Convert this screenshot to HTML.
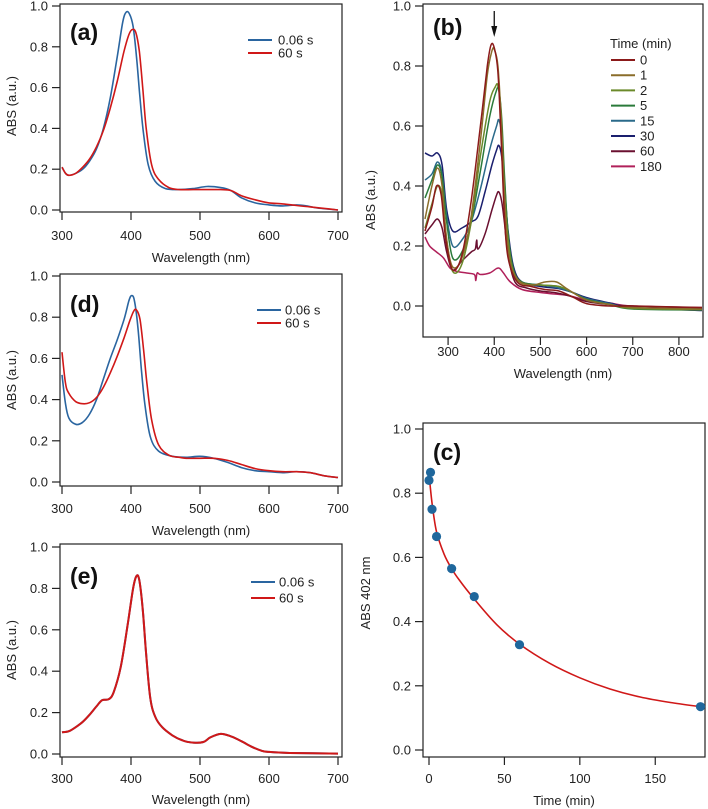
<!DOCTYPE html>
<html><head><meta charset="utf-8"><style>
body{margin:0;background:#fff}
svg{display:block;font-family:"Liberation Sans",sans-serif}
</style></head><body>
<svg id="fig" width="708" height="809" viewBox="0 0 708 809"></svg>
<script>
// ---- data ----
const aWl=[300,305,310,320,330,340,350,360,370,380,388,393,398,403,408,413,418,425,435,450,470,490,510,530,545,560,580,600,620,640,655,670,700];
const aBlue=[0.21,0.18,0.17,0.18,0.2,0.24,0.3,0.4,0.55,0.75,0.92,0.97,0.96,0.9,0.75,0.55,0.38,0.22,0.14,0.105,0.1,0.105,0.115,0.11,0.095,0.06,0.035,0.025,0.02,0.025,0.02,0.01,0.0];
const aRedWl=[300,305,310,320,330,340,350,360,370,380,390,397,402,407,412,417,422,430,440,455,470,490,510,530,545,560,580,600,620,640,660,680,700];
const aRed=[0.21,0.18,0.17,0.18,0.21,0.25,0.31,0.39,0.5,0.63,0.78,0.86,0.885,0.87,0.78,0.6,0.4,0.22,0.15,0.11,0.1,0.1,0.1,0.1,0.095,0.07,0.05,0.035,0.03,0.022,0.015,0.008,0.0];
const dBlueWl=[300,305,310,320,330,340,350,360,370,380,390,397,401,405,410,415,420,428,440,460,480,500,520,540,560,580,600,620,640,660,680,700];
const dBlue=[0.52,0.38,0.31,0.28,0.29,0.33,0.4,0.5,0.6,0.69,0.79,0.88,0.905,0.88,0.75,0.55,0.38,0.22,0.15,0.125,0.12,0.125,0.115,0.095,0.07,0.055,0.05,0.045,0.05,0.045,0.03,0.022];
const dRedWl=[300,305,310,320,330,340,350,360,370,380,390,398,404,408,413,418,423,430,440,455,470,480,500,520,540,560,580,600,620,640,660,680,700];
const dRed=[0.63,0.48,0.43,0.39,0.38,0.385,0.41,0.46,0.53,0.61,0.7,0.78,0.83,0.835,0.79,0.65,0.48,0.3,0.18,0.13,0.12,0.115,0.115,0.115,0.105,0.085,0.065,0.055,0.05,0.05,0.045,0.03,0.022];
const eWl=[300,310,320,330,340,350,358,368,375,385,395,403,408,412,417,422,428,435,445,460,475,490,505,515,530,545,560,575,590,600,630,700];
const eVals=[0.105,0.11,0.13,0.155,0.19,0.23,0.26,0.265,0.3,0.42,0.62,0.8,0.86,0.84,0.7,0.48,0.27,0.18,0.13,0.09,0.065,0.055,0.058,0.08,0.097,0.085,0.062,0.035,0.015,0.01,0.005,0.002];
const bNames=["0","1","2","5","15","30","60","180"];
const bColors=["#8b1a1a","#8a6d2a","#6b8a2a","#2a7a3a","#2a6a8a","#1a1f6e","#6a1030","#b0205a"];
const b0W=[250,265,275,285,295,310,330,350,370,385,393,400,408,415,422,430,450,480,510,540,570,600,650,700,850];
const b0V=[0.25,0.33,0.40,0.37,0.22,0.12,0.17,0.35,0.6,0.8,0.87,0.86,0.78,0.55,0.3,0.16,0.08,0.065,0.055,0.05,0.03,0.008,0.0,0.0,-0.005];
const b1W=[250,265,277,287,297,310,330,350,370,385,395,400,408,415,423,432,450,480,510,535,560,600,650,700,850];
const b1V=[0.29,0.4,0.46,0.4,0.22,0.13,0.16,0.3,0.55,0.77,0.85,0.855,0.8,0.62,0.35,0.17,0.09,0.07,0.08,0.08,0.055,0.02,0.005,-0.005,-0.01];
const b2W=[250,265,277,287,297,310,330,350,370,390,402,408,414,420,428,440,460,500,540,570,600,650,700,850];
const b2V=[0.26,0.34,0.40,0.37,0.22,0.115,0.14,0.28,0.5,0.68,0.73,0.735,0.66,0.45,0.25,0.12,0.075,0.07,0.065,0.045,0.02,0.005,-0.008,-0.012];
const b5W=[250,265,277,287,297,310,330,350,370,390,405,410,416,422,430,442,460,500,540,570,600,650,700,850];
const b5V=[0.36,0.42,0.47,0.43,0.28,0.16,0.18,0.28,0.45,0.63,0.72,0.72,0.63,0.44,0.24,0.12,0.08,0.07,0.065,0.045,0.022,0.005,-0.01,-0.013];
const b15W=[250,265,277,287,297,310,330,350,370,390,405,410,416,422,430,442,460,500,540,570,600,650,700,850];
const b15V=[0.42,0.44,0.48,0.44,0.3,0.2,0.22,0.28,0.39,0.52,0.6,0.62,0.57,0.42,0.24,0.12,0.08,0.07,0.06,0.045,0.025,0.008,-0.008,-0.013];
const b30W=[250,265,277,287,297,310,330,350,365,380,395,405,410,416,422,430,442,460,500,540,570,600,650,700,850];
const b30V=[0.51,0.5,0.51,0.47,0.32,0.25,0.26,0.28,0.3,0.38,0.47,0.52,0.535,0.5,0.4,0.25,0.13,0.08,0.065,0.058,0.045,0.028,0.01,-0.005,-0.015];
const b60W=[250,265,277,287,297,310,330,350,359,362,365,380,395,405,410,416,422,430,445,470,500,530,560,600,650,700,850];
const b60V=[0.24,0.27,0.29,0.26,0.18,0.12,0.15,0.18,0.19,0.22,0.19,0.24,0.32,0.37,0.38,0.35,0.28,0.17,0.08,0.06,0.05,0.045,0.035,0.015,0.005,0.0,-0.008];
const b180W=[250,260,275,290,305,320,340,357,360,363,370,390,405,412,420,435,460,500,530,560,600,650,700,850];
const b180V=[0.23,0.2,0.18,0.16,0.125,0.115,0.11,0.105,0.085,0.11,0.105,0.11,0.125,0.125,0.11,0.08,0.055,0.045,0.04,0.035,0.02,0.01,0.0,-0.005];
const cTimes=[0,1,2,5,15,30,60,180];
const cAbs=[0.84,0.865,0.75,0.665,0.565,0.478,0.328,0.135];
const cFitT=[0,2,5,10,15,20,30,45,60,80,100,120,140,160,180];
const cFitV=[0.86,0.77,0.68,0.61,0.565,0.53,0.47,0.39,0.33,0.27,0.225,0.19,0.165,0.148,0.135];
const xTicksW=[300,400,500,600,700];
const xTicksB=[300,400,500,600,700,800];
const yTicks=[0,0.2,0.4,0.6,0.8,1.0];
const xTicksC=[0,50,100,150];

const NS="http://www.w3.org/2000/svg";
const svg=document.getElementById('fig');
function el(tag,attrs,parent,text){const e=document.createElementNS(NS,tag);for(const k in attrs)e.setAttribute(k,attrs[k]);if(text!==undefined)e.textContent=text;(parent||svg).appendChild(e);return e;}
function smooth(pts){let d="M"+pts[0][0].toFixed(1)+","+pts[0][1].toFixed(1);for(let i=0;i<pts.length-1;i++){const p0=pts[Math.max(0,i-1)],p1=pts[i],p2=pts[i+1],p3=pts[Math.min(pts.length-1,i+2)];const c1=[p1[0]+(p2[0]-p0[0])/6,p1[1]+(p2[1]-p0[1])/6],c2=[p2[0]-(p3[0]-p1[0])/6,p2[1]-(p3[1]-p1[1])/6];d+="C"+c1[0].toFixed(1)+","+c1[1].toFixed(1)+" "+c2[0].toFixed(1)+","+c2[1].toFixed(1)+" "+p2[0].toFixed(1)+","+p2[1].toFixed(1);}return d;}

function panel(o){
  const g=el('g',{});
  
  
  const X=v=>o.x0+(v-o.xmin)/(o.xmax-o.xmin)*(o.x1-o.x0);
  const Y=v=>o.y0-(v-o.ymin)/(o.ymax-o.ymin)*(o.y0-o.y1);
  const f=el('rect',{x:o.fx0,y:o.fy0,width:o.fx1-o.fx0,height:o.fy1-o.fy0,fill:'none',stroke:'#222','stroke-width':1.2},g);
  
  o.xt.forEach(t=>{const x=X(t);el('line',{x1:x,x2:x,y1:o.fy1,y2:o.fy1+8,stroke:'#222','stroke-width':1.2},g);
    const tx=el('text',{x:x,y:o.fy1+o.tOff,'font-size':13,'text-anchor':'middle',fill:'#222'},g,String(t));
    });
  o.yt.forEach(t=>{const y=Y(t);el('line',{x1:o.fx0-8,x2:o.fx0,y1:y,y2:y,stroke:'#222','stroke-width':1.2},g);
    const tx=el('text',{x:o.fx0-12,y:y+4.5,'font-size':13,'text-anchor':'end',fill:'#222'},g,t.toFixed(1));
    });
  const xt=el('text',{x:(o.fx0+o.fx1)/2,y:o.xtitleY,'font-size':13,'text-anchor':'middle',fill:'#222'},g,o.xtitle);
  
  const yt=el('text',{x:0,y:0,'font-size':13,'text-anchor':'middle',fill:'#222',transform:`translate(${o.ytX},${o.ytY}) rotate(-90)`},g,o.ytitle);
  
  const pl=el('text',{x:o.lx,y:o.ly,'font-size':23,'font-weight':'bold',fill:'#111'},g,o.label);
  
  return {g,X,Y};
}
function series(p,xs,ys,color,name,w){
  const pts=xs.map((x,i)=>[p.X(x),p.Y(ys[i])]);
  const pa=el('path',{d:smooth(pts),fill:'none',stroke:color,'stroke-width':w||1.6},p.g);
  
}
function legend2(p,lx,tx,y1,y2){
  const e1=el('g',{},p.g);
  el('line',{x1:lx,x2:lx+24,y1:y1,y2:y1,stroke:'#2a65a0','stroke-width':2},e1);
  el('text',{x:tx,y:y1+4.5,'font-size':13,fill:'#222'},e1,'0.06 s');
  const e2=el('g',{},p.g);
  el('line',{x1:lx,x2:lx+24,y1:y2,y2:y2,stroke:'#d01818','stroke-width':2},e2);
  el('text',{x:tx,y:y2+4.5,'font-size':13,fill:'#222'},e2,'60 s');
}
const BLUE='#2a65a0',RED='#d01818';
// (a)
const pa=panel({name:'panel-a',xmin:300,xmax:700,ymin:0,ymax:1,x0:62,x1:338,y0:210,y1:6,fx0:60,fx1:342,fy0:4,fy1:212,tOff:28,xt:xTicksW,yt:yTicks,xtitle:'Wavelength (nm)',xtitleY:262,ytitle:'ABS (a.u.)',ytX:16,ytY:106,label:'(a)',lx:70,ly:40});
series(pa,aWl,aBlue,BLUE,'series-0.06s');series(pa,aRedWl,aRed,RED,'series-60s');
legend2(pa,248,278,40,53);
// (d)
const pd=panel({name:'panel-d',xmin:300,xmax:700,ymin:0,ymax:1,x0:62,x1:338,y0:482,y1:276,fx0:60,fx1:342,fy0:274,fy1:486,tOff:27,xt:xTicksW,yt:yTicks,xtitle:'Wavelength (nm)',xtitleY:535,ytitle:'ABS (a.u.)',ytX:16,ytY:380,label:'(d)',lx:70,ly:312});
series(pd,dBlueWl,dBlue,BLUE,'series-0.06s');series(pd,dRedWl,dRed,RED,'series-60s');
legend2(pd,257,285,310,323);
// (e)
const pe=panel({name:'panel-e',xmin:300,xmax:700,ymin:0,ymax:1,x0:62,x1:338,y0:754,y1:547,fx0:60,fx1:342,fy0:544,fy1:757,tOff:26,xt:xTicksW,yt:yTicks,xtitle:'Wavelength (nm)',xtitleY:804,ytitle:'ABS (a.u.)',ytX:16,ytY:650,label:'(e)',lx:70,ly:584});
series(pe,eWl,eVals,BLUE,'series-0.06s',2);series(pe,eWl,eVals,RED,'series-60s',2);
legend2(pe,251,279,582,598);
// (b)
const pb=panel({name:'panel-b',xmin:250,xmax:850,ymin:-0.1,ymax:1,x0:425,x1:702,y0:336,y1:6,fx0:423,fx1:703,fy0:4,fy1:337,tOff:19,xt:xTicksB,yt:yTicks,xtitle:'Wavelength (nm)',xtitleY:378,ytitle:'ABS (a.u.)',ytX:375,ytY:200,label:'(b)',lx:433,ly:35});
const bW=[b0W,b1W,b2W,b5W,b15W,b30W,b60W,b180W],bV=[b0V,b1V,b2V,b5V,b15V,b30V,b60V,b180V];
for(let i=bW.length-1;i>=0;i--)series(pb,bW[i],bV[i],bColors[i],'series-'+bNames[i]+'min',1.5);
const lt=el('text',{x:610,y:48,'font-size':13,fill:'#222'},pb.g,'Time (min)');

bNames.forEach((n,i)=>{const y=60+i*15.2;const e=el('g',{},pb.g);
  
  el('line',{x1:611,x2:635,y1:y,y2:y,stroke:bColors[i],'stroke-width':2},e);
  el('text',{x:640,y:y+4.5,'font-size':13,fill:'#222'},e,n);});
const ar=el('g',{},pb.g);
el('line',{x1:pb.X(400),x2:pb.X(400),y1:11,y2:32,stroke:'#111','stroke-width':1.3},ar);
el('path',{d:`M${pb.X(400)-3},${26} L${pb.X(400)},${37} L${pb.X(400)+3},${26} Z`,fill:'#111'},ar);
// (c)
const pc=panel({name:'panel-c',xmin:0,xmax:180,ymin:0,ymax:1,x0:429,x1:700.5,y0:750,y1:429,fx0:423,fx1:705,fy0:423,fy1:757,tOff:26,xt:xTicksC,yt:yTicks,xtitle:'Time (min)',xtitleY:805,ytitle:'ABS 402 nm',ytX:370,ytY:593,label:'(c)',lx:433,ly:460});
series(pc,cFitT,cFitV,RED,'fit-curve',1.6);
cTimes.forEach((t,i)=>{const c=el('circle',{cx:pc.X(t),cy:pc.Y(cAbs[i]),r:4.6,fill:'#1f679c'},pc.g);
  });
</script>
</body></html>
